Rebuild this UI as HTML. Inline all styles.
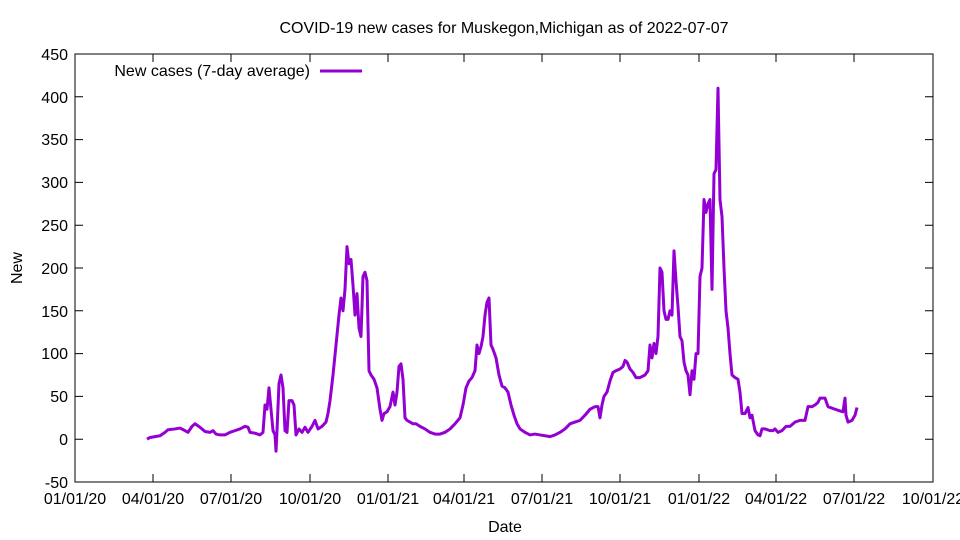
<!DOCTYPE html>
<html><head><meta charset="utf-8"><style>body{margin:0;background:#fff}svg{display:block}text{font-family:"Liberation Sans",sans-serif;font-size:16px;fill:#000}</style></head><body>
<svg width="960" height="540" viewBox="0 0 960 540">
<rect x="75" y="54" width="858" height="428" fill="none" stroke="#000" stroke-width="1"/>
<g stroke="#000" stroke-width="1">
<path d="M75 54h8M75 96.8h8M75 139.6h8M75 182.4h8M75 225.2h8M75 268h8M75 310.8h8M75 353.6h8M75 396.4h8M75 439.2h8M933 54h-8M933 96.8h-8M933 139.6h-8M933 182.4h-8M933 225.2h-8M933 268h-8M933 310.8h-8M933 353.6h-8M933 396.4h-8M933 439.2h-8"/>
<path d="M153 482v-8M231 482v-8M310 482v-8M388 482v-8M464 482v-8M542 482v-8M620 482v-8M699 482v-8M776 482v-8M854 482v-8M153 54v8M231 54v8M310 54v8M388 54v8M464 54v8M542 54v8M620 54v8M699 54v8M776 54v8M854 54v8"/>
</g>
<g text-anchor="end">
<text x="68" y="60">450</text><text x="68" y="103">400</text><text x="68" y="145">350</text><text x="68" y="188">300</text><text x="68" y="231">250</text><text x="68" y="274">200</text><text x="68" y="317">150</text><text x="68" y="359">100</text><text x="68" y="402">50</text><text x="68" y="445">0</text><text x="68" y="488">-50</text>
</g>
<g text-anchor="middle">
<text x="75" y="504">01/01/20</text><text x="153" y="504">04/01/20</text><text x="231" y="504">07/01/20</text><text x="310" y="504">10/01/20</text><text x="388" y="504">01/01/21</text><text x="464" y="504">04/01/21</text><text x="542" y="504">07/01/21</text><text x="620" y="504">10/01/21</text><text x="699" y="504">01/01/22</text><text x="776" y="504">04/01/22</text><text x="854" y="504">07/01/22</text><text x="933" y="504">10/01/22</text>
<text x="505" y="532">Date</text>
<text x="504" y="33">COVID-19 new cases for Muskegon,Michigan as of 2022-07-07</text>
<text x="22" y="268" transform="rotate(-90 22 268)">New</text>
</g>
<text x="310" y="76" text-anchor="end">New cases (7-day average)</text>
<line x1="320" y1="71" x2="362" y2="71" stroke="#9400d3" stroke-width="3"/>
<g transform="translate(0 439.2) scale(1 -0.856)">
<polyline fill="none" stroke="#9400d3" stroke-width="3" vector-effect="non-scaling-stroke" stroke-linejoin="round" points="147,0 150,2 155,3 160,4 165,8 168,11 175,12 180,13 185,10 188,8 192,15 195,18 200,14 205,9 210,8 213,10 216,6 220,5 225,5 230,8 235,10 240,12 245,15 248,14 250,8 255,7 260,5 263,8 265,40 267,35 269,60 271,35 273,10 275,5 276,-14 277,10 279,65 281,75 283,60 285,10 287,8 289,45 292,45 294,40 296,5 299,12 302,8 305,14 308,8 312,15 315,22 318,12 322,15 326,20 328,30 330,45 333,75 336,110 339,145 341,165 343,150 345,175 347,225 349,205 351,210 353,180 355,145 357,170 359,130 361,120 363,190 365,195 367,185 369,80 371,75 374,70 377,60 380,35 382,22 384,30 387,32 390,38 393,55 395,40 397,55 399,85 401,88 403,70 405,25 407,22 410,20 413,18 416,18 420,15 425,12 430,8 435,6 440,6 445,8 450,12 455,18 460,25 463,40 466,60 469,68 472,72 475,80 477,110 479,100 481,108 483,120 485,145 487,160 489,165 491,110 493,105 496,95 499,75 502,62 505,60 508,55 511,40 514,28 517,18 520,12 525,8 530,5 535,6 540,5 545,4 550,3 555,5 560,8 565,12 570,18 575,20 580,22 585,28 590,35 595,38 598,38 600,25 602,40 604,50 607,55 610,68 613,78 616,80 620,82 623,85 625,92 627,90 630,82 633,78 636,72 640,72 645,75 648,80 650,110 652,95 654,112 656,100 658,120 660,200 662,195 664,150 666,140 668,140 670,150 672,145 674,220 676,185 678,155 680,120 682,115 684,90 686,80 688,75 690,52 692,80 694,70 696,100 698,100 700,190 702,200 704,280 706,265 708,275 710,280 712,175 714,310 716,315 718,410 720,280 722,260 724,200 726,150 728,130 730,100 732,75 735,72 738,70 740,55 742,30 745,30 748,37 750,25 752,28 755,10 758,5 760,4 762,12 765,12 770,10 773,10 775,12 778,8 782,10 786,15 790,15 795,20 800,22 805,22 808,38 812,38 815,40 818,43 820,48 825,48 828,38 835,35 840,33 843,32 845,48 846,28 848,20 852,22 855,28 857,37"/>
</g>
</svg>
</body></html>
